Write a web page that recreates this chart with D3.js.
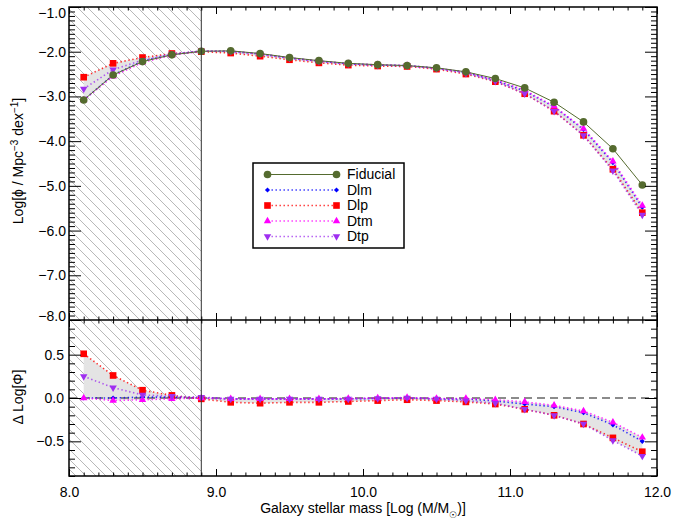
<!DOCTYPE html>
<html><head><meta charset="utf-8">
<script src="https://cdn.jsdelivr.net/npm/d3@7"></script>
<style>
body{margin:0;background:#fff;}
svg text{font-family:"Liberation Sans",Arial,Helvetica,sans-serif;fill:#000;}
</style></head><body>
<svg id="chart" width="673" height="520"></svg>
<script>
// ---------------- data ----------------
const mass = [8.1,8.3,8.5,8.7,8.9,9.1,9.3,9.5,9.7,9.9,10.1,10.3,10.5,10.7,10.9,11.1,11.3,11.5,11.7,11.9];
const fiducial = [-3.08,-2.52,-2.22,-2.07,-1.99,-1.98,-2.04,-2.13,-2.20,-2.26,-2.29,-2.31,-2.36,-2.45,-2.60,-2.81,-3.13,-3.57,-4.17,-4.98];
const dlm = [-3.08,-2.52,-2.21,-2.06,-1.99,-1.99,-2.05,-2.14,-2.21,-2.27,-2.30,-2.31,-2.37,-2.46,-2.64,-2.88,-3.23,-3.74,-4.48,-5.48];
const dlp = [-2.57,-2.26,-2.13,-2.04,-2.00,-2.03,-2.10,-2.18,-2.25,-2.30,-2.32,-2.33,-2.39,-2.50,-2.67,-2.94,-3.33,-3.87,-4.63,-5.60];
const dtm = [-3.08,-2.55,-2.24,-2.08,-1.99,-1.99,-2.05,-2.14,-2.21,-2.27,-2.29,-2.31,-2.37,-2.46,-2.62,-2.86,-3.22,-3.72,-4.45,-5.44];
const dtp = [-2.83,-2.40,-2.19,-2.05,-1.98,-1.99,-2.05,-2.14,-2.21,-2.27,-2.30,-2.31,-2.37,-2.48,-2.66,-2.94,-3.33,-3.87,-4.66,-5.65];
const deltaDlm = [0.00,0.00,0.01,0.01,0.00,-0.01,-0.01,-0.01,-0.01,-0.01,-0.005,0.00,-0.01,-0.01,-0.035,-0.07,-0.10,-0.17,-0.31,-0.50];
const deltaDlp = [0.51,0.26,0.09,0.03,-0.01,-0.05,-0.06,-0.05,-0.05,-0.04,-0.03,-0.02,-0.03,-0.045,-0.07,-0.13,-0.20,-0.30,-0.46,-0.62];
const deltaDtm = [0.00,-0.03,-0.02,-0.01,0.00,-0.01,-0.01,-0.01,-0.01,-0.005,0.00,0.005,-0.005,-0.005,-0.02,-0.045,-0.085,-0.15,-0.28,-0.455];
const deltaDtp = [0.25,0.12,0.035,0.02,0.01,-0.01,-0.01,-0.01,-0.01,-0.01,-0.005,0.00,-0.01,-0.03,-0.06,-0.13,-0.20,-0.30,-0.49,-0.67];
const seriesNames = ["Fiducial","Dlm","Dlp","Dtm","Dtp"];
const xTickValues = [8,9,10,11,12];
const topTickValues = [-1,-2,-3,-4,-5,-6,-7,-8];
const botTickValues = [0.5,0,-0.5];
const cutMass = 8.9;

// ---------------- styles ----------------
const colors = {Fiducial:"#556b2f", Dlm:"#0000ff", Dlp:"#ff0000", Dtm:"#ff00ff", Dtp:"#9f2ff0"};
const symbols = {
  Fiducial: {type:d3.symbolCircle, size:46, rot:0},
  Dlm: {type:d3.symbolSquare, size:13, rot:45},
  Dlp: {type:d3.symbolSquare, size:44, rot:0},
  Dtm: {type:d3.symbolTriangle, size:24, rot:0},
  Dtp: {type:d3.symbolTriangle, size:24, rot:180}
};

const X0=69, X1=657, TOP=7, MID=320, BOT=476;
const svg = d3.select("#chart");
const x = d3.scaleLinear().domain([8,12]).range([X0,X1]);
const yTop = d3.scaleLinear().domain([-8,-1]).range([MID,TOP]);
const yBot = d3.scaleLinear().domain([-0.9,0.9]).range([BOT,MID]);

// hatch pattern
const defs = svg.append("defs");
const pat = defs.append("pattern").attr("id","hatch").attr("patternUnits","userSpaceOnUse")
  .attr("width",10).attr("height",10);
pat.append("path").attr("d","M-1,-1 L11,11 M-1,9 L1,11 M9,-1 L11,1")
  .attr("stroke","#b8b8b8").attr("stroke-width",1);
defs.append("clipPath").attr("id","clipTop").append("rect").attr("x",X0).attr("y",TOP).attr("width",X1-X0).attr("height",MID-TOP);
defs.append("clipPath").attr("id","clipBot").append("rect").attr("x",X0).attr("y",MID).attr("width",X1-X0).attr("height",BOT-MID);

// hatched regions (both panels)
svg.append("rect").attr("x",x(8)).attr("y",TOP).attr("width",x(cutMass)-x(8)).attr("height",BOT-TOP)
  .attr("fill","url(#hatch)");

function panel(yScale, data, clip){
  const g = svg.append("g").attr("clip-path","url(#"+clip+")");
  const names = ["Dlm","Dlp","Dtm","Dtp"];
  const lo = mass.map((m,i)=>d3.min(names,n=>data[n][i]));
  const hi = mass.map((m,i)=>d3.max(names,n=>data[n][i]));
  const area = d3.area().x((d,i)=>x(mass[i])).y0((d,i)=>yScale(lo[i])).y1((d,i)=>yScale(hi[i]));
  g.append("path").datum(mass).attr("d",area).attr("fill","#e4e4e4");
  return g;
}
function drawSeries(g, yScale, name, vals, dotted){
  const line = d3.line().x((d,i)=>x(mass[i])).y(d=>yScale(d));
  g.append("path").datum(vals).attr("d",line).attr("fill","none")
    .attr("stroke",colors[name]).attr("stroke-width",dotted?1.6:1)
    .attr("stroke-dasharray",dotted?"1.4,2.6":null).attr("opacity",dotted?0.8:1);
}
function drawMarkers(g, yScale, name, vals){
  const s = symbols[name];
  const sym = d3.symbol().type(s.type).size(s.size);
  g.selectAll(null).data(vals).join("path")
    .attr("d",sym)
    .attr("transform",(d,i)=>`translate(${x(mass[i])},${yScale(d)}) rotate(${s.rot})`)
    .attr("fill",colors[name]);
}

// top panel
const topData = {Dlm:dlm, Dlp:dlp, Dtm:dtm, Dtp:dtp};
const gT = panel(yTop, topData, "clipTop");
["Dlm","Dlp","Dtm","Dtp"].forEach(n=>drawSeries(gT,yTop,n,topData[n],true));
drawSeries(gT,yTop,"Fiducial",fiducial,false);
["Dlm","Dlp","Dtm","Dtp"].forEach(n=>drawMarkers(gT,yTop,n,topData[n]));
drawMarkers(gT,yTop,"Fiducial",fiducial);

// bottom panel
const botData = {Dlm:deltaDlm, Dlp:deltaDlp, Dtm:deltaDtm, Dtp:deltaDtp};
const gB = panel(yBot, botData, "clipBot");
gB.append("line").attr("x1",X0).attr("x2",X1).attr("y1",yBot(0)).attr("y2",yBot(0))
  .attr("stroke","#666").attr("stroke-width",1.6).attr("stroke-dasharray","8,5");
["Dlm","Dlp","Dtm","Dtp"].forEach(n=>drawSeries(gB,yBot,n,botData[n],true));
["Dlm","Dlp","Dtm","Dtp"].forEach(n=>drawMarkers(gB,yBot,n,botData[n]));

// cut line
svg.append("line").attr("x1",x(cutMass)).attr("x2",x(cutMass)).attr("y1",TOP).attr("y2",BOT)
  .attr("stroke","#333").attr("stroke-width",1);

// ---------------- axes ----------------
const fmt = d3.format(".1f");
const FS = "14px";
function clean(g){ g.select(".domain").remove(); g.selectAll("line").attr("stroke","#000"); g.selectAll("text").style("font-size",FS).attr("font-family",null); }
const xMinor = d3.range(80,121).map(v=>v/10).filter(v=>Math.abs(v-Math.round(v))>1e-6);
[[TOP,"top"],[MID,"bottom"],[MID,"top2"],[BOT,"bottom2"]].forEach(([yy,kind])=>{
  const down = (kind==="top"||kind==="top2");
  const mk = down ? d3.axisTop : d3.axisBottom;
  const gMaj = svg.append("g").attr("transform",`translate(0,${yy})`)
    .call(mk(x).tickValues(xTickValues).tickSize(-7).tickPadding(11).tickFormat(kind==="bottom2"?fmt:""));
  const gMin = svg.append("g").attr("transform",`translate(0,${yy})`)
    .call(mk(x).tickValues(xMinor).tickSize(-3.5).tickFormat(""));
  clean(gMaj); clean(gMin);
});
function yAxes(scale, majors, minors, pad){
  const gL = svg.append("g").attr("transform",`translate(${X0},0)`)
    .call(d3.axisLeft(scale).tickValues(majors).tickSize(-12).tickPadding(pad).tickFormat(fmt));
  const gLm = svg.append("g").attr("transform",`translate(${X0},0)`)
    .call(d3.axisLeft(scale).tickValues(minors).tickSize(-6).tickFormat(""));
  const gR = svg.append("g").attr("transform",`translate(${X1},0)`)
    .call(d3.axisRight(scale).tickValues(majors).tickSize(-12).tickFormat(""));
  const gRm = svg.append("g").attr("transform",`translate(${X1},0)`)
    .call(d3.axisRight(scale).tickValues(minors).tickSize(-6).tickFormat(""));
  [gL,gLm,gR,gRm].forEach(clean);
  return gL;
}
const topMinor = d3.range(-80,-9).map(v=>v/10).filter(v=>Math.abs(v-Math.round(v))>1e-6);
const gYT = yAxes(yTop, topTickValues, topMinor, 3);
gYT.selectAll(".tick text").filter(d=>d===-1).attr("dy","0.78em");
gYT.selectAll(".tick text").filter(d=>d===-8).attr("dy","0.02em");
const botMinor = d3.range(-9,10).map(v=>v/10).filter(v=>Math.abs(v*2-Math.round(v*2))>1e-6);
yAxes(yBot, botTickValues, botMinor, 5);

// frame
svg.append("rect").attr("x",X0).attr("y",TOP).attr("width",X1-X0).attr("height",BOT-TOP)
  .attr("fill","none").attr("stroke","#000").attr("stroke-width",1.5);
svg.append("line").attr("x1",X0).attr("x2",X1).attr("y1",MID).attr("y2",MID).attr("stroke","#000").attr("stroke-width",1.5);

// axis titles
const yt = svg.append("text").attr("transform","translate(23,161) rotate(-90)").attr("text-anchor","middle").style("font-size",FS);
yt.append("tspan").text("Log[ϕ / Mpc");
yt.append("tspan").attr("baseline-shift","super").style("font-size","10px").text("−3");
yt.append("tspan").text(" dex");
yt.append("tspan").attr("baseline-shift","super").style("font-size","10px").text("−1");
yt.append("tspan").text("]");
svg.append("text").attr("transform","translate(23,397) rotate(-90)").attr("text-anchor","middle").style("font-size",FS).text("Δ Log[Φ]");
const xt = svg.append("text").attr("x",363).attr("y",513).attr("text-anchor","middle").style("font-size",FS);
xt.append("tspan").text("Galaxy stellar mass [Log (M/M");
xt.append("tspan").attr("baseline-shift","sub").style("font-size","9px").text("☉");
xt.append("tspan").text(")]");

// legend
const LX=253, LY=163, LW=151, LH=85;
const lg = svg.append("g");
lg.append("rect").attr("x",LX).attr("y",LY).attr("width",LW).attr("height",LH).attr("fill","#fff").attr("stroke","#000").attr("stroke-width",1.5);
seriesNames.forEach((n,i)=>{
  const yy = 174.5 + i*15.5;
  const dotted = n!=="Fiducial";
  lg.append("line").attr("x1",267.5).attr("x2",336.5).attr("y1",yy).attr("y2",yy)
    .attr("stroke",colors[n]).attr("stroke-width",dotted?1.6:1).attr("stroke-dasharray",dotted?"1.4,2.6":null).attr("opacity",dotted?0.8:1);
  const s = symbols[n];
  [267.5,336.5].forEach(px=>{
    lg.append("path").attr("d",d3.symbol().type(s.type).size(s.size)).attr("transform",`translate(${px},${yy}) rotate(${s.rot})`).attr("fill",colors[n]);
  });
  lg.append("text").attr("x",347).attr("y",yy).attr("dy","0.35em").style("font-size",FS).text(n);
});
</script>
</body></html>
